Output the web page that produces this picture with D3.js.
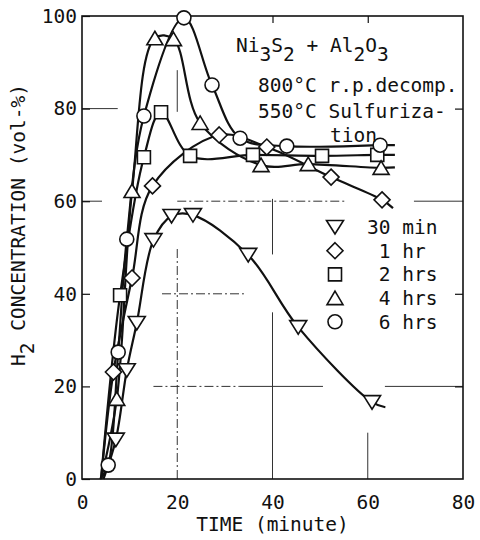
<!DOCTYPE html>
<html>
<head>
<meta charset="utf-8">
<script src="https://cdn.jsdelivr.net/npm/d3@7"></script>
<style>
  body { margin: 0; background: #fff; }
  text { font-family: "DejaVu Sans Mono", "Liberation Mono", monospace; fill: #111; }
</style>
</head>
<body>
<div id="main"></div>
<script>
// valeurs (temps en minutes, H2 en vol-%)
const seriesLabels = ["30 min", " 1 hr", " 2 hrs", " 4 hrs", " 6 hrs"];
const seriesSymbols = ["down", "diamond", "square", "up", "circle"];

const time30min = [7.1, 9.4, 11.5, 15.0, 18.8, 23.3, 34.9, 45.4, 60.9];
const conc30min = [8.5, 23.5, 33.7, 51.6, 56.8, 57.0, 48.4, 32.8, 16.6];

const time1hr = [6.6, 10.5, 14.8, 28.8, 38.8, 52.3, 63.0];
const conc1hr = [23.1, 43.4, 63.3, 74.3, 71.7, 65.2, 60.3];

const time2hrs = [8.0, 13.0, 16.6, 22.7, 35.9, 50.4, 62.0];
const conc2hrs = [39.7, 69.5, 79.2, 69.8, 70.0, 69.8, 70.0];

const time4hrs = [7.3, 10.5, 15.3, 19.2, 24.8, 37.6, 47.5, 62.8];
const conc4hrs = [17.3, 62.2, 95.2, 95.0, 76.9, 67.8, 68.0, 67.2];

const time6hrs = [5.5, 7.6, 9.4, 13.0, 21.4, 27.3, 33.2, 43.0, 62.6];
const conc6hrs = [3.0, 27.4, 51.8, 78.4, 99.6, 85.1, 73.6, 71.9, 72.1];

// debut (sur l'axe, 0 %) et fin des courbes tracées a la main
const curveStartTime = [4.5, 4.0, 4.0, 4.0, 3.8];
const curveEndTime = [63.7, 65.3, 65.7, 65.7, 65.7];
const curveEndConc = [15.5, 58.5, 70.0, 67.3, 72.1];

const xTicks = [0, 20, 40, 60, 80];
const yTicks = [0, 20, 40, 60, 80, 100];

const ctx = { w: 480, h: 540 };

function symbolPath(kind, s) {
    if (kind === "circle") return d3.symbol(d3.symbolCircle, Math.PI * 7 * 7)();
    if (kind === "square") return "M-6.5,-6.5H6.5V6.5H-6.5Z";
    if (kind === "diamond") return "M0,-8L8,0L0,8L-8,0Z";
    if (kind === "up") return "M0,-7L8,6.5L-8,6.5Z";
    return "M-8.5,-6.5L8.5,-6.5L0,7Z";
}

function createChart(svgEl) {
    const x = d3.scaleLinear().domain([0, 80]).range([82, 463]);
    const y = d3.scaleLinear().domain([0, 100]).range([479, 16]);

    const series = [
        [time30min, conc30min], [time1hr, conc1hr], [time2hrs, conc2hrs],
        [time4hrs, conc4hrs], [time6hrs, conc6hrs]
    ];

    // morceaux de quadrillage (comme sur l'original, interrompus)
    const gridSegs = [
        ["v", 20, 79.3, 88.3, false], ["v", 20, 0, 50, true],
        ["v", 40, 48.5, 60.5, false], ["v", 40, 0, 36, false],
        ["v", 60, 0, 10, false],
        ["h", 80, 0, 7.5, false],
        ["h", 60, 0, 4.2, false], ["h", 60, 20, 55.2, true], ["h", 60, 69.7, 80, false],
        ["h", 40, 16.8, 34, true],
        ["h", 20, 15, 33, true], ["h", 20, 33, 50.6, false], ["h", 20, 63.6, 80, false]
    ];
    svgEl.append("g").selectAll("line").data(gridSegs).enter().append("line")
        .attr("x1", d => d[0] === "v" ? x(d[1]) : x(d[2]))
        .attr("x2", d => d[0] === "v" ? x(d[1]) : x(d[3]))
        .attr("y1", d => d[0] === "v" ? y(d[2]) : y(d[1]))
        .attr("y2", d => d[0] === "v" ? y(d[3]) : y(d[1]))
        .attr("stroke", "#333")
        .attr("stroke-width", 1)
        .attr("stroke-dasharray", d => d[4] ? "9,3,2,3" : null);

    // axes
    const axL = svgEl.append("g").attr("transform", "translate(82,0)")
        .call(d3.axisLeft(y).tickValues(yTicks).tickSizeInner(-8).tickSizeOuter(0).tickPadding(5));
    const axB = svgEl.append("g").attr("transform", "translate(0,479)")
        .call(d3.axisBottom(x).tickValues(xTicks).tickSizeInner(0).tickSizeOuter(0).tickPadding(16));
    const axR = svgEl.append("g").attr("transform", "translate(463,0)")
        .call(d3.axisRight(y).tickValues([20, 40, 80]).tickSizeInner(-8).tickSizeOuter(0).tickFormat(""));
    const axT = svgEl.append("g").attr("transform", "translate(0,16)")
        .call(d3.axisTop(x).tickValues([40, 60]).tickSizeInner(-7).tickSizeOuter(0).tickFormat(""));
    [axL, axB, axR, axT].forEach(a => {
        a.select(".domain").remove();
        a.selectAll("line").attr("stroke", "#111").attr("stroke-width", 1.2);
        a.selectAll("text").attr("font-size", 19.5).attr("font-family", null).attr("fill", "#111");
    });

    svgEl.append("rect")
        .attr("x", x(0)).attr("y", y(100))
        .attr("width", x(80) - x(0)).attr("height", y(0) - y(100))
        .attr("fill", "none").attr("stroke", "#111").attr("stroke-width", 1.6);

    // courbes
    const line = d3.line().x(d => x(d[0])).y(d => y(d[1])).curve(d3.curveCatmullRom.alpha(0.5));
    series.forEach((s, i) => {
        const pts = [[curveStartTime[i], 0]]
            .concat(s[0].map((t, j) => [t, s[1][j]]))
            .concat([[curveEndTime[i], curveEndConc[i]]]);
        svgEl.append("path").datum(pts)
            .attr("d", line)
            .attr("fill", "none")
            .attr("stroke", "#111")
            .attr("stroke-width", 2.2);
    });

    // marqueurs
    series.forEach((s, i) => {
        svgEl.append("g").selectAll("path")
            .data(s[0].map((t, j) => [t, s[1][j]]))
            .enter().append("path")
            .attr("transform", d => `translate(${x(d[0])},${y(d[1])})`)
            .attr("d", symbolPath(seriesSymbols[i]))
            .attr("fill", "#fff")
            .attr("stroke", "#111")
            .attr("stroke-width", 1.6);
    });

    // legende
    const leg = svgEl.append("g");
    seriesLabels.forEach((lab, i) => {
        const cy = 227 + i * 23.7;
        leg.append("path")
            .attr("transform", `translate(335,${cy})`)
            .attr("d", symbolPath(seriesSymbols[i]))
            .attr("fill", "#fff").attr("stroke", "#111").attr("stroke-width", 1.6);
        leg.append("text")
            .attr("x", 367).attr("y", cy + 7)
            .attr("font-size", 19.5)
            .attr("xml:space", "preserve")
            .style("white-space", "pre")
            .text(lab);
    });

    // annotations
    const t1 = svgEl.append("text").attr("x", 236).attr("y", 52).attr("font-size", 19.5);
    [["Ni", 0], ["3", 9], ["S", -9], ["2", 9], [" + Al", -9], ["2", 9], ["O", -9], ["3", 9]]
        .forEach(p => t1.append("tspan").attr("dy", p[1]).style("white-space", "pre").text(p[0]));

    svgEl.append("text").attr("x", 258).attr("y", 92).attr("font-size", 19.5)
        .style("white-space", "pre").text("800°C r.p.decomp.");
    svgEl.append("text").attr("x", 258).attr("y", 118).attr("font-size", 19.5)
        .style("white-space", "pre").text("550°C Sulfuriza-");
    svgEl.append("text").attr("x", 330).attr("y", 142).attr("font-size", 19.5).text("tion");

    // titres des axes
    svgEl.append("text")
        .attr("x", x(40)).attr("y", 531)
        .attr("text-anchor", "middle").attr("font-size", 19.5)
        .text("TIME (minute)");

    const yl = svgEl.append("text")
        .attr("transform", "translate(25,225) rotate(-90)")
        .attr("text-anchor", "middle").attr("font-size", 19.5);
    yl.append("tspan").text("H");
    yl.append("tspan").attr("dy", 9).text("2");
    yl.append("tspan").attr("dy", -9).style("white-space", "pre").text(" CONCENTRATION (vol-%)");
}

function createViz() {
    const svgEl = d3.select("#main").append("svg")
        .attr("width", ctx.w)
        .attr("height", ctx.h);
    createChart(svgEl);
}
createViz();
</script>
</body>
</html>
